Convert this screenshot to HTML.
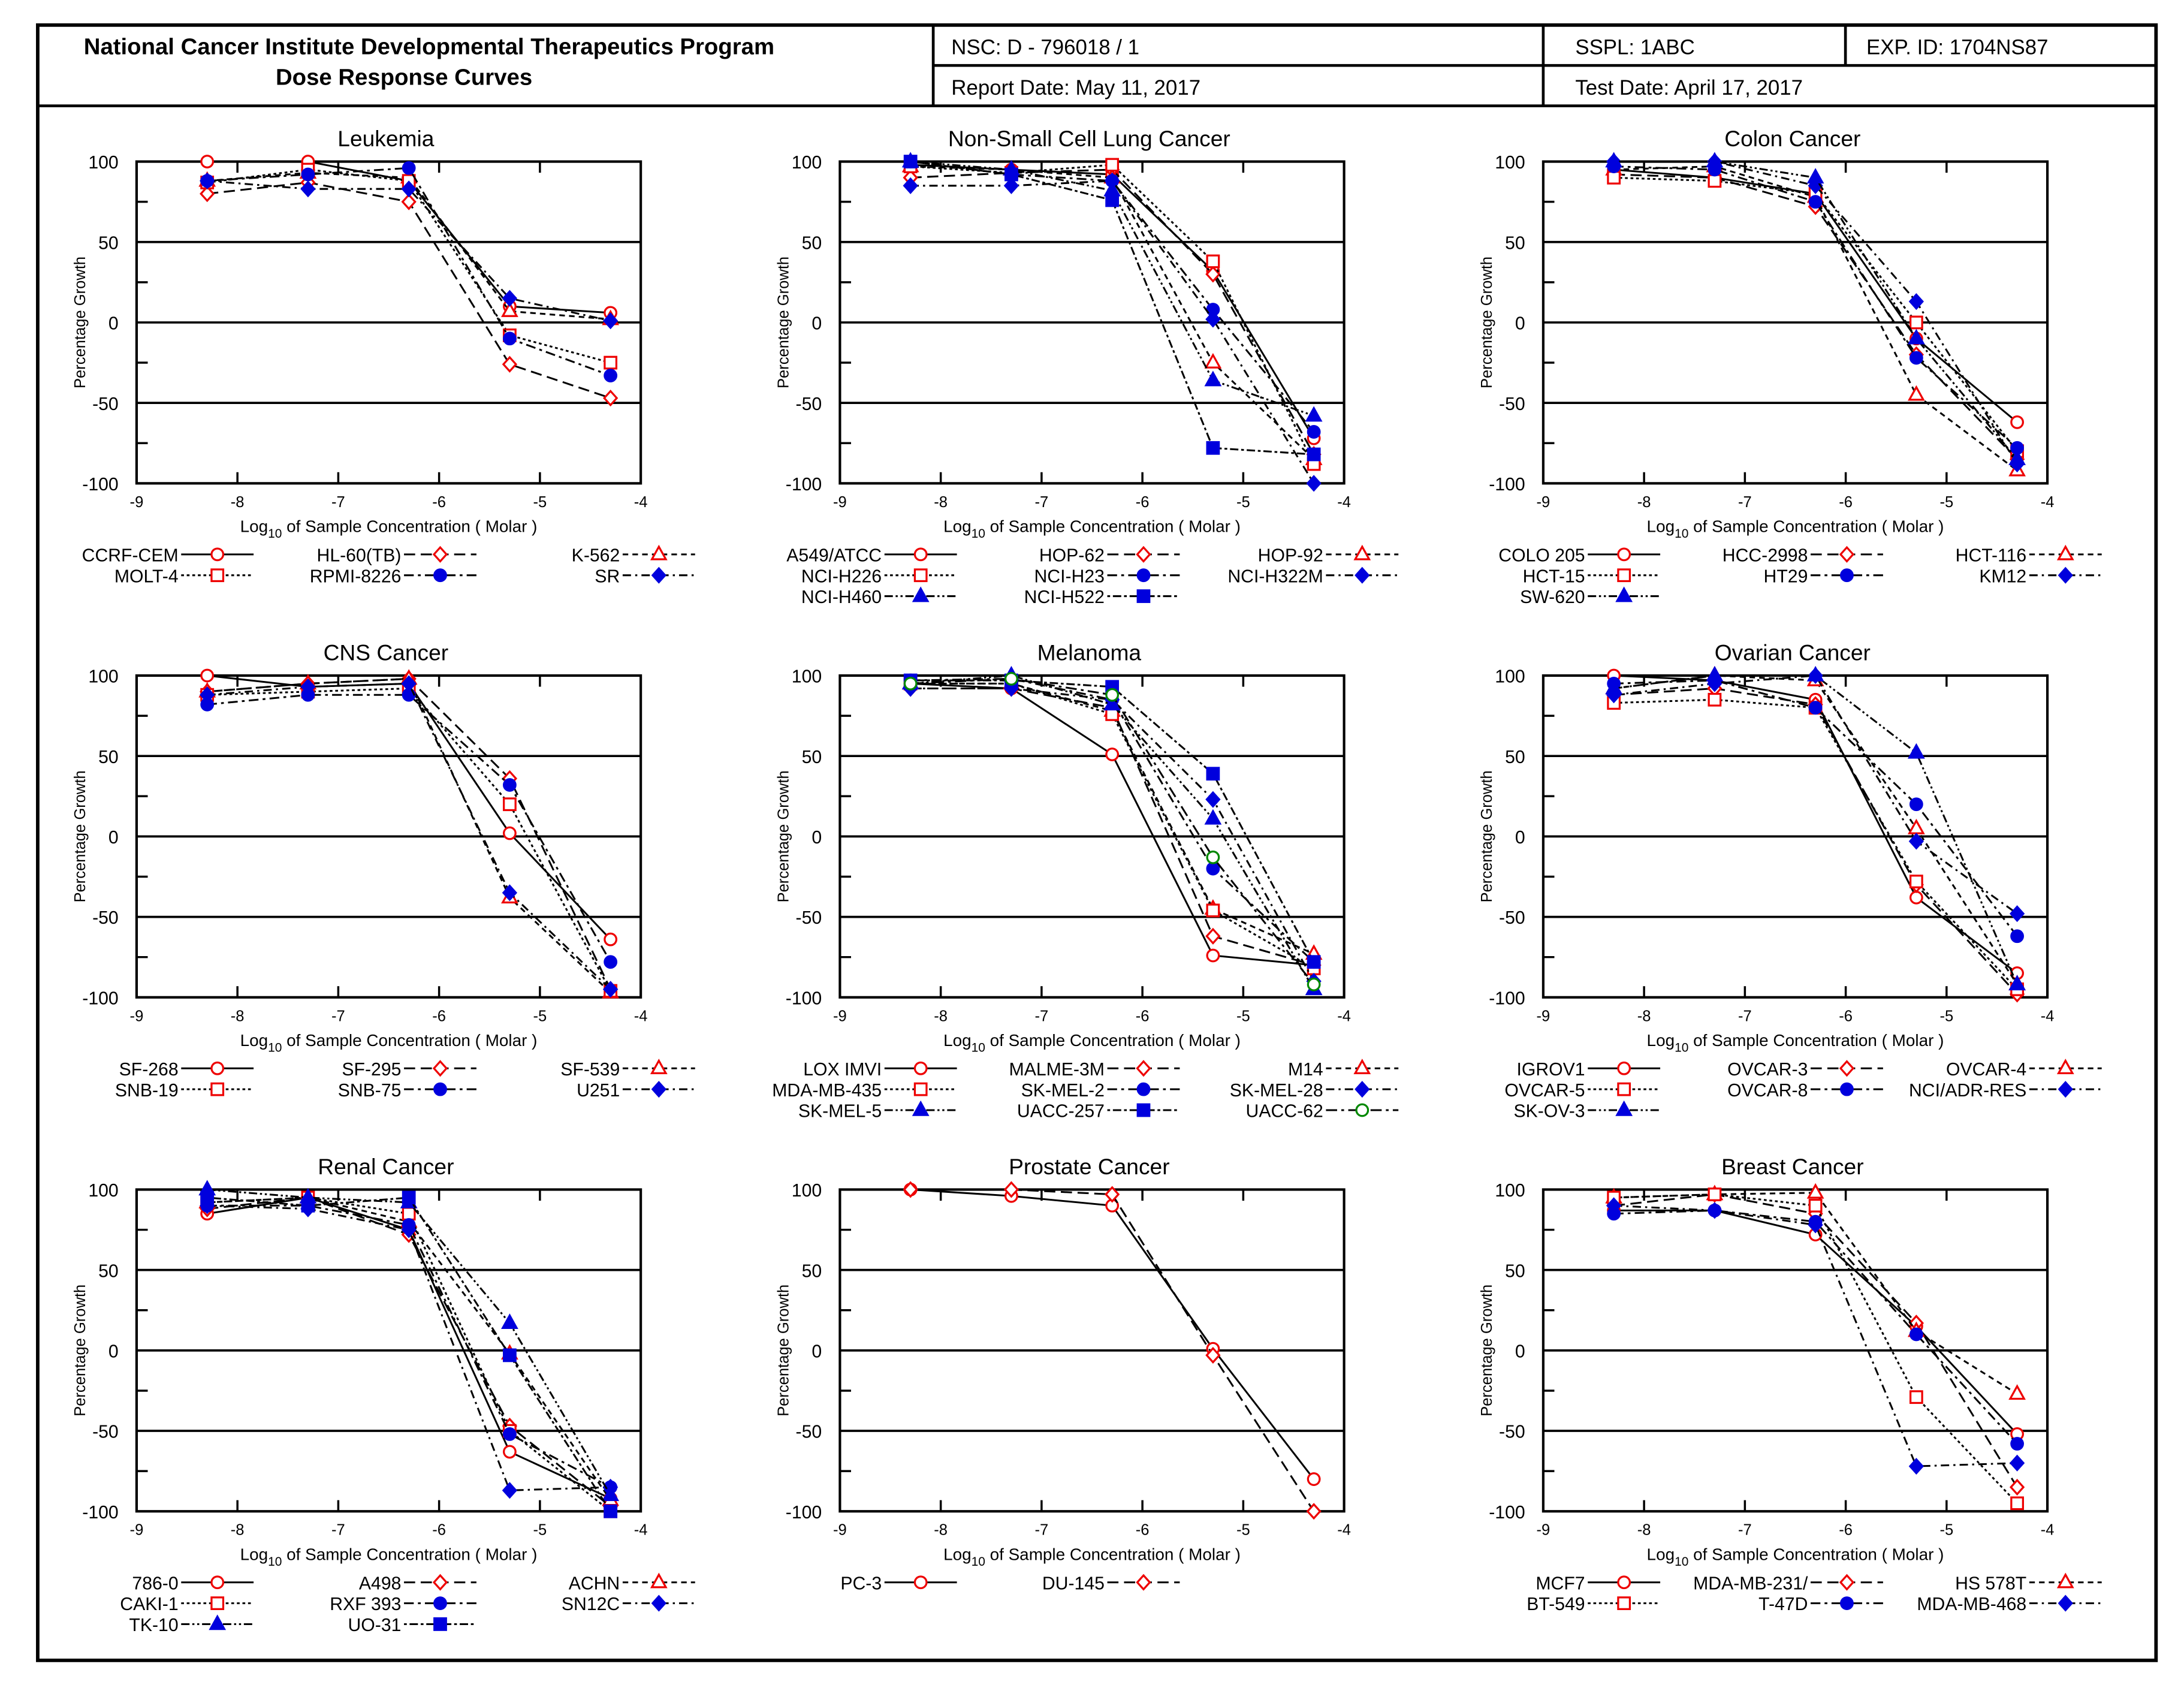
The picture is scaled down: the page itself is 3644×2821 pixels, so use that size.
<!DOCTYPE html>
<html><head><meta charset="utf-8"><style>
html,body{margin:0;padding:0;background:#fff;}
svg{display:block;font-family:"Liberation Sans",Arial,sans-serif;}
</style></head><body>
<svg id="root" width="3644" height="2821" viewBox="0 0 1568 1214">
<rect x="0" y="0" width="1568" height="1214" fill="#fff"/>
<g stroke="#000" fill="none">
<rect x="27" y="18" width="1521" height="1174" stroke-width="2.5"/>
<line x1="27" y1="76" x2="1548" y2="76" stroke-width="2"/>
<line x1="670" y1="18" x2="670" y2="76" stroke-width="2"/>
<line x1="670" y1="47" x2="1548" y2="47" stroke-width="2"/>
<line x1="1108" y1="18" x2="1108" y2="76" stroke-width="2"/>
<line x1="1325" y1="18" x2="1325" y2="47" stroke-width="2"/>
</g>
<g font-size="15" fill="#000">
<text x="308" y="39" text-anchor="middle" font-weight="bold" font-size="16.5">National Cancer Institute Developmental Therapeutics Program</text>
<text x="290" y="61" text-anchor="middle" font-weight="bold" font-size="16.5">Dose Response Curves</text>
<text x="683" y="39">NSC: D - 796018 / 1</text>
<text x="683" y="68">Report Date: May 11, 2017</text>
<text x="1131" y="39">SSPL: 1ABC</text>
<text x="1340" y="39">EXP. ID: 1704NS87</text>
<text x="1131" y="68">Test Date: April 17, 2017</text>
</g>
<g id="panels"></g>
</svg>
<script>
const concentrations = [-8.3, -7.3, -6.3, -5.3, -4.3];
const xTicks = [-9, -8, -7, -6, -5, -4];
const yTicks = [100, 50, 0, -50, -100];
const panelTitles = ["Leukemia","Non-Small Cell Lung Cancer","Colon Cancer","CNS Cancer","Melanoma","Ovarian Cancer","Renal Cancer","Prostate Cancer","Breast Cancer"];
const leukemiaNames = ["CCRF-CEM","HL-60(TB)","K-562","MOLT-4","RPMI-8226","SR"];
const leukemiaValues = [[100,100,88,10,6],[80,87,75,-26,-47],[88,93,90,7,2],[87,95,88,-8,-25],[88,92,96,-10,-33],[88,83,83,15,1]];
const lungNames = ["A549/ATCC","HOP-62","HOP-92","NCI-H226","NCI-H23","NCI-H322M","NCI-H460","NCI-H522"];
const lungValues = [[98,95,92,32,-72],[90,93,95,30,-82],[97,95,90,-25,-85],[97,93,98,38,-88],[100,92,88,8,-68],[85,85,88,2,-100],[100,95,82,-36,-58],[100,92,76,-78,-82]];
const colonNames = ["COLO 205","HCC-2998","HCT-116","HCT-15","HT29","KM12","SW-620"];
const colonValues = [[95,90,80,-10,-62],[92,90,72,-20,-85],[95,97,78,-45,-92],[90,88,80,0,-80],[97,95,75,-22,-78],[100,100,85,13,-88],[100,100,90,-10,-85]];
const cnsNames = ["SF-268","SF-295","SF-539","SNB-19","SNB-75","U251"];
const cnsValues = [[100,93,95,2,-64],[90,95,98,36,-95],[90,95,98,-38,-97],[88,90,92,20,-96],[82,88,88,32,-78],[88,93,95,-35,-95]];
const melanomaNames = ["LOX IMVI","MALME-3M","M14","MDA-MB-435","SK-MEL-2","SK-MEL-28","SK-MEL-5","UACC-257","UACC-62"];
const melanomaValues = [[95,92,51,-74,-80],[92,92,80,-62,-80],[95,95,78,-45,-73],[95,95,76,-46,-82],[97,98,85,-20,-78],[92,92,85,23,-90],[95,100,82,11,-95],[97,97,93,39,-78],[95,98,88,-13,-92]];
const ovarianNames = ["IGROV1","OVCAR-3","OVCAR-4","OVCAR-5","OVCAR-8","NCI/ADR-RES","SK-OV-3"];
const ovarianValues = [[100,97,85,-38,-85],[88,92,82,-30,-98],[92,100,97,5,-92],[83,85,80,-28,-95],[95,97,80,20,-62],[88,95,100,-3,-48],[92,100,100,52,-92]];
const renalNames = ["786-0","A498","ACHN","CAKI-1","RXF 393","SN12C","TK-10","UO-31"];
const renalValues = [[85,95,75,-63,-92],[88,95,72,-47,-97],[92,95,80,-2,-93],[92,95,85,-50,-100],[90,90,78,-52,-85],[90,88,75,-87,-85],[100,95,92,17,-90],[95,90,95,-3,-100]];
const prostateNames = ["PC-3","DU-145"];
const prostateValues = [[100,96,90,1,-80],[100,100,97,-3,-100]];
const breastNames = ["MCF7","MDA-MB-231/","HS 578T","BT-549","T-47D","MDA-MB-468"];
const breastValues = [[87,87,72,15,-52],[90,97,85,17,-85],[95,97,98,12,-27],[95,97,90,-29,-95],[85,87,80,10,-58],[90,87,78,-72,-70]];

const panelNames = [leukemiaNames,lungNames,colonNames,cnsNames,melanomaNames,ovarianNames,renalNames,prostateNames,breastNames];
const panelValues = [leukemiaValues,lungValues,colonValues,cnsValues,melanomaValues,ovarianValues,renalValues,prostateValues,breastValues];

const styles = [
 {dash:"", col:"#e00", mk:"circle", fill:false},
 {dash:"8,4", col:"#e00", mk:"diamond", fill:false},
 {dash:"4,3", col:"#e00", mk:"triangle", fill:false},
 {dash:"2,2", col:"#e00", mk:"square", fill:false},
 {dash:"7,3,2,3", col:"#00d", mk:"circle", fill:true},
 {dash:"6,3,1.5,3", col:"#00d", mk:"diamond", fill:true},
 {dash:"6,2,1.5,2,1.5,2", col:"#00d", mk:"triangle", fill:true},
 {dash:"2,2,6,2", col:"#00d", mk:"square", fill:true},
 {dash:"8,3,2,3", col:"#080", mk:"circle", fill:false}
];
const NS = "http://www.w3.org/2000/svg";
function mk(tag, attrs, parent){ const e=document.createElementNS(NS,tag); for(const k in attrs) e.setAttribute(k,attrs[k]); if(parent) parent.appendChild(e); return e; }
function marker(g, st, cx, cy){
  const a = {stroke:st.col, "stroke-width":1.4, fill: st.fill?st.col:"#fff"};
  let e;
  if(st.mk==="circle"){ e=mk("circle",Object.assign({cx:cx,cy:cy,r:4.2},a),g); }
  else if(st.mk==="square"){ e=mk("rect",Object.assign({x:cx-4.2,y:cy-4.2,width:8.4,height:8.4},a),g); }
  else if(st.mk==="diamond"){ e=mk("polygon",Object.assign({points:`${cx},${cy-5} ${cx+4.5},${cy} ${cx},${cy+5} ${cx-4.5},${cy}`},a),g); }
  else { e=mk("polygon",Object.assign({points:`${cx},${cy-5.5} ${cx+5},${cy+3.5} ${cx-5},${cy+3.5}`},a),g); }
  return e;
}
const root = document.getElementById("panels");
panelTitles.forEach((title, p)=>{
  const ox = (p%3)*505, oy = Math.floor(p/3)*369;
  const L=98+ox, R=460+ox, T=116+oy, B=347+oy;
  const xs = v => L + (v+9)/5*(R-L);
  const ys = v => T + (100-v)/200*(B-T);
  const g = mk("g",{},root);
  
  
  const t = mk("text",{x:(L+R)/2-2,y:T-11,"text-anchor":"middle","font-size":16},g); t.textContent=title;
  
  
  [50,0,-50].forEach(v=>{ const l=mk("line",{x1:L,x2:R,y1:ys(v),y2:ys(v),stroke:"#000","stroke-width":1.6},g);
    
     });
  [75,25,-25,-75].forEach(v=>{ mk("line",{x1:L,x2:L+8,y1:ys(v),y2:ys(v),stroke:"#000","stroke-width":1.5},g); });
  xTicks.slice(1,-1).forEach(v=>{ mk("line",{x1:xs(v),x2:xs(v),y1:B,y2:B-8,stroke:"#000","stroke-width":1.5},g);
    mk("line",{x1:xs(v),x2:xs(v),y1:T,y2:T+8,stroke:"#000","stroke-width":1.5},g); });
  const fr = mk("rect",{x:L,y:T,width:R-L,height:B-T,fill:"none",stroke:"#000","stroke-width":1.8},g);
  
  
  xTicks.forEach(v=>{ const tt=mk("text",{x:xs(v),y:B+17,"text-anchor":"middle","font-size":11},g); tt.textContent=String(v);
    
     });
  yTicks.forEach(v=>{ const tt=mk("text",{x:L-13,y:ys(v)+5,"text-anchor":"end","font-size":13},g); tt.textContent=String(v);
    
     });
  const xt = mk("text",{x:(L+R)/2,y:B+35,"text-anchor":"middle","font-size":12},g);
  xt.innerHTML = 'Log<tspan font-size="9" dy="4">10</tspan><tspan dy="-4"> of Sample Concentration ( Molar )</tspan>';
  
  
  const yt = mk("text",{x:0,y:0,"text-anchor":"middle","font-size":11,transform:`translate(${L-37},${(T+B)/2}) rotate(-90)`},g);
  yt.textContent="Percentage Growth";
  
  
  panelValues[p].forEach((vals, i)=>{
    const st = styles[i];
    const sg = mk("g",{},g);
    
    
    const pts = vals.map((v,j)=>xs(concentrations[j])+","+ys(v)).join(" ");
    mk("polyline",{points:pts,fill:"none",stroke:"#000","stroke-width":1.3,"stroke-dasharray":st.dash},sg);
    vals.forEach((v,j)=>{ const m=marker(sg,st,xs(concentrations[j]),ys(v));
      
       });
  });
  const textRight = [128,288,445];
  panelNames[p].forEach((name,i)=>{
    const c=i%3, r=Math.floor(i/3);
    const st=styles[i];
    const lg = mk("g",{},g);
    
    
    const ty = 403+oy+r*15, tx = textRight[c]+ox;
    const lt = mk("text",{x:tx,y:ty,"text-anchor":"end","font-size":13},lg); lt.textContent=name;
    mk("line",{x1:tx+2,x2:tx+54,y1:ty-5,y2:ty-5,stroke:"#000","stroke-width":1.3,"stroke-dasharray":st.dash},lg);
    marker(lg,st,tx+28,ty-5);
  });
});
</script>
</body></html>
